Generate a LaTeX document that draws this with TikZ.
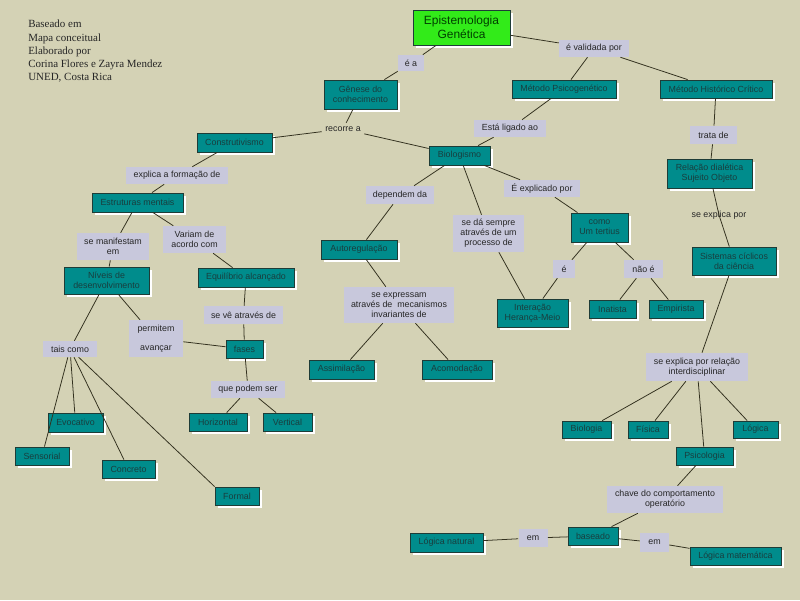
\documentclass[tikz,border=0pt]{standalone}
\usepackage{fontspec}
\setmainfont{Liberation Sans}
\newfontfamily\titlefont{Liberation Serif}
\usepackage{tikz}
\usetikzlibrary{shadows}

\definecolor{bgbeige}{RGB}{212,210,181}
\definecolor{tealbox}{RGB}{0,140,140}
\definecolor{tealline}{RGB}{30,60,55}
\definecolor{tealtext}{RGB}{25,62,62}
\definecolor{lavender}{RGB}{200,200,220}
\definecolor{mapgreen}{RGB}{50,235,25}
\definecolor{connline}{RGB}{50,48,30}

\begin{document}
\begin{tikzpicture}[
    x=0.025cm, y=-0.025cm,
    sz/.style 2 args={minimum width=#1*0.025cm, minimum height=#2*0.025cm},
    concept/.style={rectangle, draw=tealline, line width=0.6pt, fill=tealbox, text=tealtext,
        font=\fontsize{6.3}{7}\selectfont, align=center, inner sep=1pt,
        drop shadow={shadow xshift=0.07cm, shadow yshift=-0.07cm, fill=white, opacity=1}},
    mainconcept/.style={concept, fill=mapgreen, text=green!25!black, font=\fontsize{8.5}{10}\selectfont},
    linkphrase/.style={rectangle, fill=lavender, text=black!85, font=\fontsize{6.3}{7.1}\selectfont,
        align=center, inner sep=1pt},
    plainlink/.style={linkphrase, fill=none},
    line/.style={draw=connline, line width=0.55pt},
]
    \fill[bgbeige] (0,0) rectangle (800,600);

    % credits
    \node[anchor=north west, inner sep=0, align=left, text=black!85,
          font=\titlefont\fontsize{7.8}{9.4}\selectfont] (credits) at (28,20)
        {Baseado em\\Mapa conceitual\\Elaborado por\\Corina Flores e Zayra Mendez\\UNED, Costa Rica};

    % concepts
    \node (epist) [mainconcept, sz={97}{35}] at (461.5,27.5) {Epistemologia\\Genética};
    \node (genese) [concept, sz={73}{29}] at (360.5,94.5) {Gênese do\\conhecimento};
    \node (psico) [concept, sz={104}{18}] at (564,89) {Método Psicogenético};
    \node (historico) [concept, sz={112}{18}] at (716,89) {Método Histórico Crítico};
    \node (constru) [concept, sz={75}{19}] at (234.5,142.5) {Construtivismo};
    \node (biolog) [concept, sz={61}{19}] at (459.5,155.5) {Biologismo};
    \node (relacao) [concept, sz={85}{29}] at (709.5,173.5) {Relação dialética\\Sujeito Objeto};
    \node (estrut) [concept, sz={91}{19}] at (137.5,202.5) {Estruturas mentais};
    \node (autoreg) [concept, sz={76}{19}] at (359,249.5) {Autoregulação};
    \node (tertius) [concept, sz={57}{29}] at (599.5,227.5) {como\\Um tertius};
    \node (sistemas) [concept, sz={84}{28}] at (734,261) {Sistemas cíclicos\\da ciência};
    \node (niveis) [concept, sz={85}{27}] at (106.5,280.5) {Níveis de\\desenvolvimento};
    \node (equil) [concept, sz={96}{19}] at (246,277.5) {Equilíbrio alcançado};
    \node (interacao) [concept, sz={71}{28}] at (532.5,313) {Interação\\Herança-Meio};
    \node (inatista) [concept, sz={47}{18}] at (612.5,309) {Inatista};
    \node (empirista) [concept, sz={54}{18}] at (676,309) {Empirista};
    \node (fases) [concept, sz={37}{18}] at (244.5,349) {fases};
    \node (assim) [concept, sz={65}{19}] at (341.5,369.5) {Assimilação};
    \node (acomod) [concept, sz={70}{19}] at (457,369.5) {Acomodação};
    \node (evocativo) [concept, sz={55}{19}] at (75.5,422.5) {Evocativo};
    \node (horizontal) [concept, sz={58}{18}] at (218,422) {Horizontal};
    \node (vertical) [concept, sz={49}{18}] at (287.5,422) {Vertical};
    \node (biologia) [concept, sz={49}{17}] at (586.5,429.5) {Biologia};
    \node (fisica) [concept, sz={40}{17}] at (648,429.5) {Física};
    \node (logica) [concept, sz={45}{17}] at (755.5,429.5) {Lógica};
    \node (sensorial) [concept, sz={54}{18}] at (42,456) {Sensorial};
    \node (psicologia) [concept, sz={57}{18}] at (704.5,456) {Psicologia};
    \node (concreto) [concept, sz={53}{18}] at (128.5,469) {Concreto};
    \node (formal) [concept, sz={44}{18}] at (237,496) {Formal};
    \node (lnatural) [concept, sz={73}{19}] at (446.5,542.5) {Lógica natural};
    \node (baseado) [concept, sz={50}{18}] at (593,536) {baseado};
    \node (lmat) [concept, sz={91}{18}] at (735.5,556) {Lógica matemática};

    % linking phrases
    \node (ea) [linkphrase, sz={26}{16}] at (411,63) {é a};
    \node (validada) [linkphrase, sz={70}{17}] at (594,48.5) {é validada por};
    \node (ligado) [linkphrase, sz={72}{17}] at (510,128.5) {Está ligado ao};
    \node (tratade) [linkphrase, sz={47}{18}] at (713.5,135) {trata de};
    \node (recorre) [plainlink, sz={42}{12}] at (343,129) {recorre a};
    \node (explica) [linkphrase, sz={102}{17}] at (177,175.5) {explica a formação de};
    \node (dependem) [linkphrase, sz={68}{18}] at (400,195) {dependem da};
    \node (explicado) [linkphrase, sz={76}{17}] at (542,188.5) {É explicado por};
    \node (manifestam) [linkphrase, sz={72}{27}] at (113,246.5) {se manifestam\\em};
    \node (variam) [linkphrase, sz={63}{27}] at (194.5,239.5) {Variam de\\acordo com};
    \node (processo) [linkphrase, sz={71}{37}] at (488.5,233.5) {se dá sempre\\através de um\\processo de};
    \node (seexplica) [plainlink] at (719,215) {se explica por};
    \node (e) [linkphrase, sz={22}{18}] at (564,269) {é};
    \node (naoe) [linkphrase, sz={39}{18}] at (643.5,269) {não é};
    \node (expressam) [linkphrase, sz={110}{36}] at (399,305) {se expressam\\através de \ mecanismos\\invariantes de};
    \node (vetraves) [linkphrase, sz={79}{18}] at (243.5,315) {se vê através de};
    \node (permitem) [linkphrase, sz={54}{37}] at (156,338.5) {permitem\\[6.4pt]avançar};
    \node (tais) [linkphrase, sz={54}{16}] at (70,349) {tais como};
    \node (interdisc) [linkphrase, sz={102}{28}] at (697,367) {se explica por relação\\interdisciplinar};
    \node (podem) [linkphrase, sz={74}{17}] at (248,389.5) {que podem ser};
    \node (chave) [linkphrase, sz={116}{27}] at (665,499.5) {chave do comportamento\\operatório};
    \node (em1) [linkphrase, sz={29}{18}] at (533,538) {em};
    \node (em2) [linkphrase, sz={29}{19}] at (654.5,542.5) {em};

    % connectors
    \draw[line] (epist) -- (ea);
    \draw[line] (ea) -- (genese);
    \draw[line] (epist) -- (validada);
    \draw[line] (validada) -- (psico);
    \draw[line] (validada) -- (historico);
    \draw[line] (genese) -- (recorre);
    \draw[line] (recorre) -- (constru);
    \draw[line] (recorre) -- (biolog);
    \draw[line] (psico) -- (ligado);
    \draw[line] (ligado) -- (biolog);
    \draw[line] (historico) -- (tratade);
    \draw[line] (tratade) -- (relacao);
    \draw[line] (relacao) -- (seexplica.center) -- (sistemas);
    \draw[line] (sistemas) -- (interdisc);
    \foreach \n in {biologia,fisica,psicologia,logica}
        \draw[line] (interdisc) -- (\n);
    \draw[line] (psicologia) -- (chave);
    \draw[line] (chave) -- (baseado);
    \draw[line] (baseado) -- (em1);
    \draw[line] (em1) -- (lnatural);
    \draw[line] (baseado) -- (em2);
    \draw[line] (em2) -- (lmat);

    \draw[line] (constru) -- (explica);
    \draw[line] (explica) -- (estrut);
    \draw[line] (biolog) -- (dependem);
    \draw[line] (dependem) -- (autoreg);
    \draw[line] (biolog) -- (processo);
    \draw[line] (processo) -- (interacao);
    \draw[line] (biolog) -- (explicado);
    \draw[line] (explicado) -- (tertius);
    \draw[line] (tertius) -- (e);
    \draw[line] (e) -- (interacao);
    \draw[line] (tertius) -- (naoe);
    \draw[line] (naoe) -- (inatista);
    \draw[line] (naoe) -- (empirista);
    \draw[line] (autoreg) -- (expressam);
    \draw[line] (expressam) -- (assim);
    \draw[line] (expressam) -- (acomod);

    \draw[line] (estrut) -- (manifestam);
    \draw[line] (manifestam) -- (niveis);
    \draw[line] (estrut) -- (variam);
    \draw[line] (variam) -- (equil);
    \draw[line] (equil) -- (vetraves);
    \draw[line] (vetraves) -- (fases);
    \draw[line] (niveis) -- (permitem);
    \draw[line] (permitem) -- (fases);
    \draw[line] (niveis) -- (tais);
    \foreach \n in {sensorial,evocativo,concreto}
        \draw[line] (tais) -- (\n);
    \draw[line] (tais) -- (formal.north west);
    \draw[line] (fases) -- (podem);
    \draw[line] (podem) -- (horizontal);
    \draw[line] (podem) -- (vertical);
\end{tikzpicture}
\end{document}
